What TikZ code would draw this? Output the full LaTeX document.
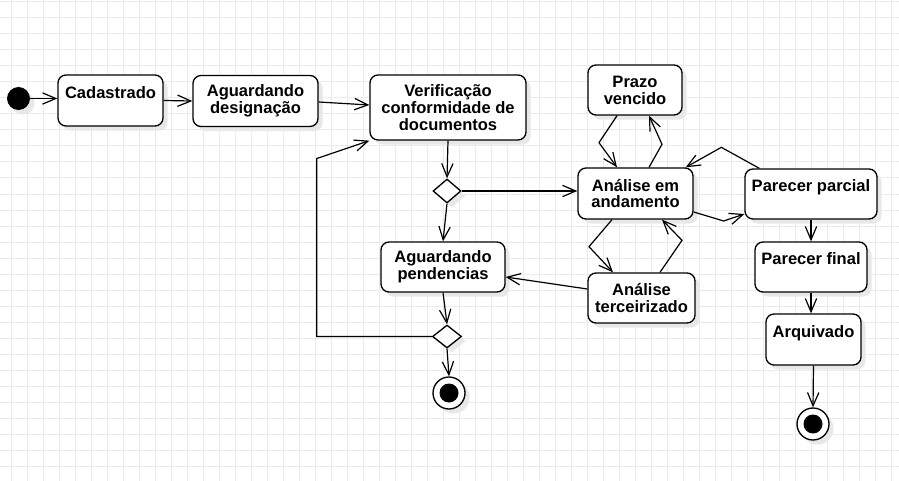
\documentclass[tikz,border=0pt]{standalone}
\usepackage{fontspec}
\setmainfont{Liberation Sans}
\usetikzlibrary{arrows.meta,shapes.geometric,shadows,calc}
\definecolor{gridc}{RGB}{235,235,235}
\definecolor{shadc}{RGB}{232,232,232}
\begin{document}
\begin{tikzpicture}[x=0.75pt,y=-0.75pt,
  shad/.style={drop shadow={shadow xshift=3.4pt, shadow yshift=-3.4pt, fill=shadc, opacity=1}},
  state/.style={draw, line width=1pt, rounded corners=6pt, fill=white, align=center, inner sep=0pt,
    font=\fontsize{12.4pt}{12.6pt}\selectfont\bfseries, shad},
  decision/.style={diamond, draw, line width=1pt, fill=white, inner sep=0pt, shad},
  flow/.style={line width=0.9pt, -{Straight Barb[length=10pt,width=8.5pt]}},
  gridline/.style={draw=gridc, line width=0.75pt}]
\useasboundingbox (0,0) rectangle (899,481);
\fill[white] (0,0) rectangle (899,481);
\foreach \k in {0,...,55} \draw[gridline] (11.5+16*\k,0) -- (11.5+16*\k,481);
\foreach \k in {0,...,29} \draw[gridline] (0,2+16*\k) -- (899,2+16*\k);

% nodes
\node[circle, fill=black, minimum size=17.25pt, inner sep=0pt, shad] (init) at (18.5,98.5) {};
\node[state, minimum width=78.75pt, minimum height=38.25pt] (cad) at (110.5,100.5) {Cadastrado\\\mbox{}};
\node[state, minimum width=93.75pt, minimum height=38.25pt] (agd) at (255.5,101) {Aguardando\\designação};
\node[state, minimum width=117pt, minimum height=48.75pt] (ver) at (448,107.5) {Verificação\\conformidade de\\documentos};
\node[state, minimum width=70.5pt, minimum height=37.5pt] (prz) at (635,90) {Prazo\\vencido};
\node[state, minimum width=86.25pt, minimum height=38.25pt] (ana) at (635.5,193.5) {Análise em\\andamento};
\node[state, minimum width=99pt, minimum height=37.5pt] (pp) at (811,194) {Parecer parcial\\\mbox{}};
\node[state, minimum width=84pt, minimum height=37.5pt] (pf) at (811,267) {Parecer final\\\mbox{}};
\node[state, minimum width=80.25pt, minimum height=37.5pt] (ter) at (641.5,298) {Análise\\terceirizado};
\node[state, minimum width=93pt, minimum height=37.5pt] (pen) at (443,267) {Aguardando\\pendencias};
\node[state, minimum width=71.25pt, minimum height=38.25pt] (arq) at (813.5,339.5) {Arquivado\\\mbox{}};
\node[decision, minimum width=21pt, minimum height=18pt] (d1) at (447,191) {};
\node[decision, minimum width=21.75pt, minimum height=17.25pt] (d2) at (447,336.5) {};
\node[circle, draw, line width=1pt, fill=white, minimum size=24pt, inner sep=0pt, shad] (f1) at (449,393) {};
\node[circle, fill=black, minimum size=14.25pt, inner sep=0pt] (f1dot) at (f1.center) {};
\node[circle, draw, line width=1pt, fill=white, minimum size=24pt, inner sep=0pt, shad] (f2) at (813,424) {};
\node[circle, fill=black, minimum size=14.25pt, inner sep=0pt] (f2dot) at (f2.center) {};

% connectors
\draw[flow] (init.east) -- (init.east -| cad.west);
\draw[flow] (cad.east) -- (agd.west);
\draw[flow] ($(agd.east)+(0,1)$) -- ($(ver.west)+(0,-2.5)$);
\draw[flow] (ver.south) -- (d1.north);
\draw[flow] (d1.east) -- (d1.east -| ana.west);
\draw[flow] (d1.south) -- (pen.north);
\draw[flow] (pen.south) -- (d2.north);
\draw[flow] (d2.south) -- (f1.north);
\draw[flow] (d2.west) -- ++(-115,0) -- ++(0,-178) -- (ver.south west);
\draw[flow] ($(prz.south)+(-18,0)$) -- ++(-18,27) -- ($(ana.north)+(-18.5,0)$);
\draw[flow] ($(ana.north)+(13.5,0)$) -- ++(13,-23) -- ($(prz.south)+(14,0)$);
\draw[flow] ($(pp.north west)+(15,0)$) -- ++(-38,-21) -- ($(ana.north east)+(-8,0)$);
\draw[flow] ($(ana.east)+(0,18.5)$) -- ++(30,9) -- ($(pp.west)+(0,20)$);
\draw[flow] ($(ana.south)+(-23.5,0)$) -- ++(-23,27) -- ($(ter.north)+(-28.5,0)$);
\draw[flow] ($(ter.north)+(18.5,0)$) -- ++(22,-32) -- ($(ana.south)+(26.5,0)$);
\draw[flow] ($(ter.west)+(0,-9)$) -- ($(pen.east)+(0,10)$);
\draw[flow] (pp.south) -- (pf.north);
\draw[flow] (pf.south) -- (pf.south |- arq.north);
\draw[flow] (arq.south) -- (f2.north);
\end{tikzpicture}
\end{document}
